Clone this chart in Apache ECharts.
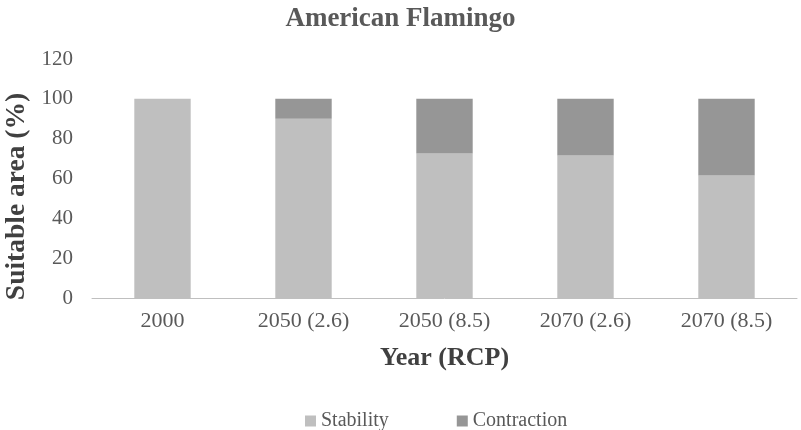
<!DOCTYPE html>
<html><head><meta charset="utf-8">
<script src="https://cdn.jsdelivr.net/npm/echarts@6/dist/echarts.min.js"></script>
<style>html,body{margin:0;padding:0;background:#fff}#c{width:801px;height:430px}</style>
</head><body><div id="c"></div>
<script>
const categories = ['2000', '2050 (2.6)', '2050 (8.5)', '2070 (2.6)', '2070 (8.5)'];
const stability = [100, 90, 72.5, 71.5, 61.5];
const contraction = [0, 10, 27.5, 28.5, 38.5];
const yTicks = [0, 20, 40, 60, 80, 100, 120];

const font = 'Liberation Serif';
const chart = echarts.init(document.getElementById('c'));
chart.setOption({
  animation: false,
  title: {
    text: 'American Flamingo', left: 'center', top: 1,
    textStyle: { fontFamily: font, fontSize: 27, fontWeight: 'bold', color: '#595959' }
  },
  legend: {
    left: 300, top: 406, itemWidth: 11, itemHeight: 11, itemGap: 68,
    icon: 'rect',
    textStyle: { fontFamily: font, fontSize: 20, color: '#595959' },
    data: ['Stability', 'Contraction']
  },
  grid: { left: 92, right: 4, top: 59, bottom: 132, containLabel: false, outerBoundsMode: 'none' },
  xAxis: {
    type: 'category', data: categories,
    name: 'Year (RCP)', nameLocation: 'middle', nameGap: 47,
    nameTextStyle: { fontFamily: font, fontSize: 26, fontWeight: 'bold', color: '#404040' },
    axisLine: { lineStyle: { color: '#bfbfbf', width: 1 } },
    axisTick: { show: false },
    axisLabel: { fontFamily: font, fontSize: 22, color: '#595959', margin: 12 }
  },
  yAxis: {
    type: 'value', min: 0, max: 120, interval: 20,
    name: 'Suitable area (%)', nameLocation: 'middle', nameGap: 57, nameRotate: 90,
    nameTextStyle: { fontFamily: font, fontSize: 27.5, fontWeight: 'bold', color: '#404040',
      padding: [0, 36, 0, 0] },
    axisLine: { show: false }, axisTick: { show: false },
    splitLine: { show: false },
    axisLabel: { fontFamily: font, fontSize: 21, color: '#595959', margin: 19,
      formatter: v => yTicks.includes(v) ? String(v) : '' }
  },
  series: [
    { name: 'Stability', type: 'bar', stack: 'a', data: stability, barWidth: '40%',
      itemStyle: { color: '#bfbfbf' } },
    { name: 'Contraction', type: 'bar', stack: 'a', data: contraction, barWidth: '40%',
      itemStyle: { color: '#969696' } }
  ]
});
</script></body></html>
